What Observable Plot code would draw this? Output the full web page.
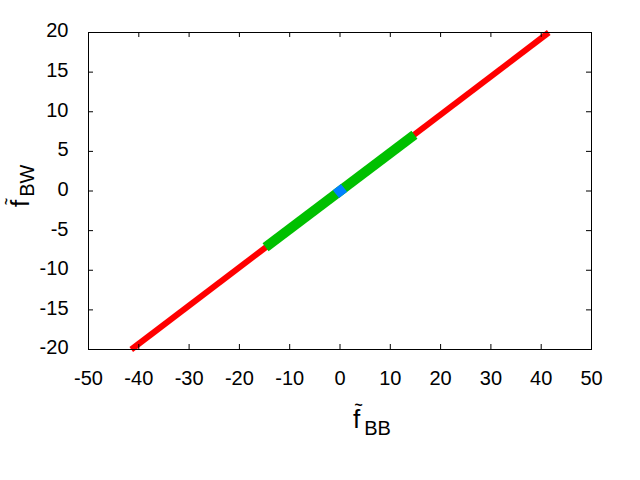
<!DOCTYPE html>
<html><head><meta charset="utf-8">
<script src="https://cdn.jsdelivr.net/npm/d3@7"></script>
<script src="https://cdn.jsdelivr.net/npm/@observablehq/plot@0.6"></script>
<style>
body{margin:0;background:#fff}
#chart{position:relative;width:640px;height:480px}
svg{font-family:"Liberation Sans",Arial,sans-serif}
</style>
</head><body><div id="chart"></div>
<script>
// Tick values
const xTicks = [-50, -40, -30, -20, -10, 0, 10, 20, 30, 40, 50];
const yTicks = [-20, -15, -10, -5, 0, 5, 10, 15, 20];
// Series (endpoints of each segment)
const redX = [-41.5, 41.5];
const redY = [-20, 20];
const greenX = [-14.8, 14.8];
const greenY = [-7.1, 7.1];
const blueX = [-0.8, 0.8];
const blueY = [-0.4, 0.4];
// Axis label texts
const xLabelMain = "f", xLabelSub = "BB";
const yLabelMain = "f", yLabelSub = "BW";
const tildeText = "~";

const seg = (xs, ys) => xs.map((x, i) => ({x, y: ys[i]}));
const red = seg(redX, redY), green = seg(greenX, greenY), blue = seg(blueX, blueY);
const FONT = '"Liberation Sans", Arial, sans-serif';

const svg = Plot.plot({
  width: 640, height: 480,
  marginLeft: 88, marginRight: 49, marginTop: 32, marginBottom: 131,
  style: {fontFamily: FONT, background: "#fff", color: "#000"},
  x: {domain: [-50, 50]},
  y: {domain: [-20, 20]},
  marks: [
    Plot.line(red, {x: "x", y: "y", stroke: "#ff0000", strokeWidth: 6, strokeLinecap: "butt"}),
    Plot.line(green, {x: "x", y: "y", stroke: "#00c000", strokeWidth: 10, strokeLinecap: "butt"}),
    Plot.line(blue, {x: "x", y: "y", stroke: "#0080ff", strokeWidth: 10, strokeLinecap: "butt"}),
    Plot.frame({stroke: "#000", strokeWidth: 1}),
    Plot.ruleX(xTicks, {x: d => d, y1: -20, y2: -20, insetTop: -5, stroke: "#000"}),
    Plot.ruleX(xTicks, {x: d => d, y1: 20, y2: 20, insetBottom: -5, stroke: "#000"}),
    Plot.ruleY(yTicks, {y: d => d, x1: -50, x2: -50, insetRight: -5, stroke: "#000"}),
    Plot.ruleY(yTicks, {y: d => d, x1: 50, x2: 50, insetLeft: -5, stroke: "#000"}),
    Plot.axisX({ticks: xTicks, tickSize: 0, tickPadding: 21, fontSize: 20, tickFormat: d => String(d), label: null}),
    Plot.axisY({ticks: yTicks, tickSize: 0, tickPadding: 20, fontSize: 20, dy: -1.5, tickFormat: d => String(d), label: null})
  ]
});
document.getElementById("chart").appendChild(svg);

const s = d3.select(svg);
// x label
const xl = s.append("text").attr("x", 353).attr("y", 428).attr("fill", "#000")
  .attr("text-anchor", "start").style("font-family", FONT);
xl.append("tspan").attr("font-size", 26).text(xLabelMain);
xl.append("tspan").attr("font-size", 20).attr("dx", 4).attr("dy", 7).text(xLabelSub);
s.append("text").attr("x", 358.5).attr("y", 410).attr("text-anchor", "middle")
  .attr("font-size", 14).attr("font-weight", "bold").attr("fill", "#000").style("font-family", FONT).text(tildeText);

// y label
const yl = s.append("text").attr("transform", "translate(28.5,207) rotate(-90)").attr("fill", "#000")
  .attr("text-anchor", "start").style("font-family", FONT);
yl.append("tspan").attr("font-size", 26).text(yLabelMain);
yl.append("tspan").attr("font-size", 20).attr("dx", 3).attr("dy", 5).text(yLabelSub);
s.append("text").attr("transform", "translate(10.5,201.5) rotate(-90)").attr("text-anchor", "middle")
  .attr("font-size", 12).attr("font-weight", "bold").attr("fill", "#000").style("font-family", FONT).text(tildeText);
</script>
</body></html>
